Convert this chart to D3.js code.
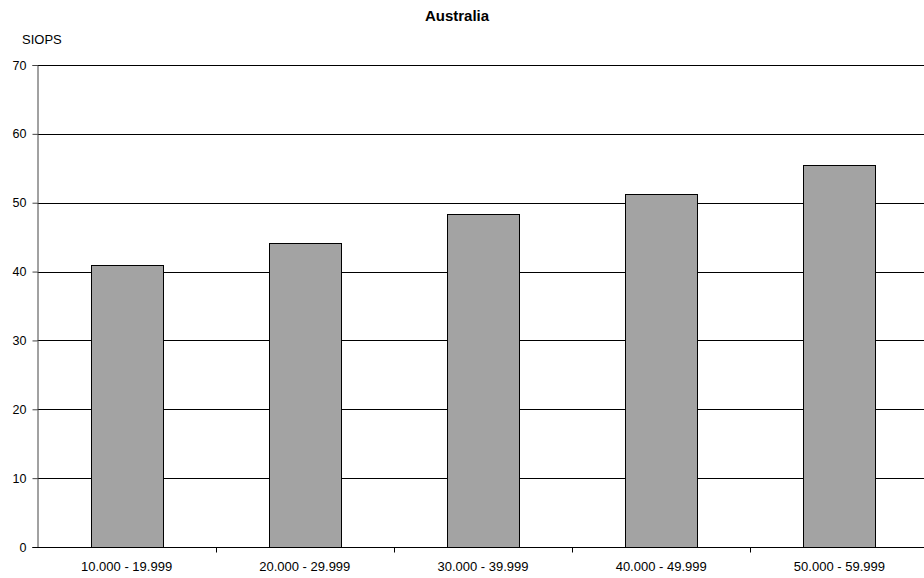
<!DOCTYPE html>
<html>
<head>
<meta charset="utf-8">
<script src="https://cdn.jsdelivr.net/npm/d3@7"></script>
<style>
  html, body { margin: 0; padding: 0; background: #fff; }
  svg { display: block; font-family: "Liberation Sans", Arial, sans-serif; }
</style>
</head>
<body>
<svg id="chart" width="924" height="578"></svg>
<script>
// Income bands and SIOPS scores
const categories = ["10.000 - 19.999", "20.000 - 29.999", "30.000 - 39.999", "40.000 - 49.999", "50.000 - 59.999"];
const siops = [40.9, 44.2, 48.3, 51.3, 55.5];
const yTicks = [0, 10, 20, 30, 40, 50, 60, 70];
const chartTitle = "Australia";
const yLabel = "SIOPS";

const svg = d3.select("#chart");
const margin = { left: 37.5, right: -4.5, top: 65, bottom: 31 };
const W = 924, H = 578;

const x = d3.scaleBand()
  .domain(categories)
  .range([margin.left, W - margin.right])
  .paddingInner(0.596)
  .paddingOuter(0.298);

const y = d3.scaleLinear()
  .domain([0, 70])
  .range([H - margin.bottom, margin.top]);

// horizontal gridlines
svg.append("g")
  .selectAll("line")
  .data(yTicks.filter(d => d > 0))
  .join("line")
  .attr("x1", margin.left)
  .attr("x2", W - margin.right)
  .attr("y1", d => Math.round(y(d)) + 0.5)
  .attr("y2", d => Math.round(y(d)) + 0.5)
  .attr("stroke", "#000")
  .attr("stroke-width", 1);

// bars
svg.append("g")
  .selectAll("rect")
  .data(siops)
  .join("rect")
  .attr("x", (d, i) => Math.round(x(categories[i])) + 0.5)
  .attr("y", d => Math.round(y(d)) + 0.5)
  .attr("width", x.bandwidth())
  .attr("height", d => Math.round(y(0)) - Math.round(y(d)))
  .attr("fill", "#a3a3a3")
  .attr("stroke", "#000")
  .attr("stroke-width", 1);

// y axis
const yAxis = d3.axisLeft(y).tickValues(yTicks).tickSize(5).tickPadding(6).tickFormat(d3.format("d"));
const gy = svg.append("g")
  .attr("transform", `translate(${Math.round(margin.left) - 0.5},0)`)
  .call(yAxis);
gy.select(".domain").attr("stroke", "#444");
gy.selectAll(".tick line").attr("stroke", "#444");
gy.selectAll(".tick text").attr("font-size", 12.5).attr("fill", "#000")
  .attr("font-family", "Liberation Sans, Arial, sans-serif");

// x axis with ticks between categories
const xBase = Math.round(y(0)) + 0.5;
const gx = svg.append("g");
gx.append("line")
  .attr("x1", margin.left - 5).attr("x2", W)
  .attr("y1", xBase).attr("y2", xBase)
  .attr("stroke", "#000");
const step = x.step();
const bounds = d3.range(categories.length + 1).map(i => margin.left + i * step);
gx.selectAll("line.sep")
  .data(bounds.slice(1))
  .join("line")
  .attr("class", "sep")
  .attr("x1", d => Math.round(d) + 0.5)
  .attr("x2", d => Math.round(d) + 0.5)
  .attr("y1", xBase)
  .attr("y2", xBase + 5)
  .attr("stroke", "#000");
gx.selectAll("text")
  .data(categories)
  .join("text")
  .attr("x", d => x(d) + x.bandwidth() / 2)
  .attr("y", xBase + 23)
  .attr("text-anchor", "middle")
  .attr("font-size", 13)
  .attr("fill", "#000")
  .text(d => d);

// title and axis label
svg.append("text")
  .attr("x", 457)
  .attr("y", 21)
  .attr("text-anchor", "middle")
  .attr("font-size", 15)
  .attr("font-weight", "bold")
  .text(chartTitle);

svg.append("text")
  .attr("x", 22)
  .attr("y", 44)
  .attr("font-size", 13)
  .text(yLabel);
</script>
</body>
</html>
